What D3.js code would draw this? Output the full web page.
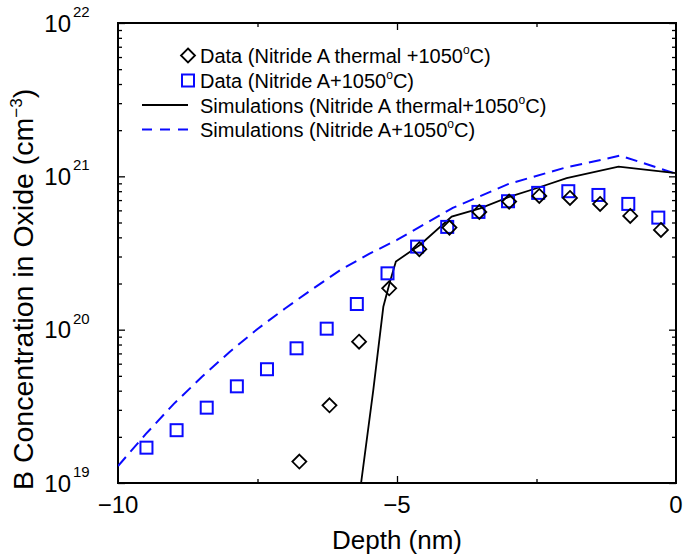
<!DOCTYPE html>
<html>
<head>
<meta charset="utf-8">
<script src="https://cdn.jsdelivr.net/npm/d3@7"></script>
<style>
  body { margin: 0; background: #fff; }
  text { font-family: "Liberation Sans", Arial, sans-serif; fill: #000; }
</style>
</head>
<body>
<div id="chart"></div>
<script>
// Data (depth in nm, concentration in cm^-3)
const thermalDepth = [-6.75, -6.21, -5.68, -5.14, -4.60, -4.06, -3.525, -2.99, -2.45, -1.90, -1.36, -0.82, -0.27];
const thermalConc = [1.38e19, 3.21e19, 8.35e19, 1.86e20, 3.35e20, 4.63e20, 5.86e20, 6.84e20, 7.45e20, 7.23e20, 6.61e20, 5.52e20, 4.47e20];

const nitrideDepth = [-9.49, -8.95, -8.41, -7.87, -7.33, -6.80, -6.26, -5.72, -5.17, -4.64, -4.10, -3.54, -3.01, -2.47, -1.93, -1.39, -0.855, -0.317];
const nitrideConc = [1.70e19, 2.21e19, 3.10e19, 4.27e19, 5.52e19, 7.56e19, 1.015e20, 1.47e20, 2.33e20, 3.48e20, 4.68e20, 5.86e20, 6.88e20, 7.80e20, 8.0e20, 7.56e20, 6.61e20, 5.38e20];

const simThermalDepth = [-5.66, -5.425, -5.245, -5.125, -5.02, -4.59, -4.02, -3.51, -2.975, -2.50, -1.96, -1.03, 0];
const simThermalConc = [9.0e18, 4.04e19, 1.41e20, 2.06e20, 2.78e20, 3.57e20, 5.46e20, 6.19e20, 7.38e20, 8.36e20, 9.72e20, 1.156e21, 1.048e21];

const simNitrideDepth = [-10, -9.5, -9, -8.5, -8, -7.5, -7, -6.5, -6, -5.5, -5, -4, -3, -2, -1, 0];
const simNitrideConc = [1.29e19, 2.09e19, 3.28e19, 4.91e19, 7.16e19, 1.011e20, 1.38e20, 1.857e20, 2.47e20, 3.12e20, 3.85e20, 6.22e20, 8.92e20, 1.135e21, 1.365e21, 1.04e21];

const xTickValues = [-10, -5, 0];
const xTickLabels = ["\u221210", "\u22125", "0"];
const yTickExps = [19, 20, 21, 22];

const legendLabels = [
  ["Data (Nitride A thermal +1050", "C)"],
  ["Data (Nitride A+1050", "C)"],
  ["Simulations (Nitride A thermal+1050", "C)"],
  ["Simulations (Nitride A+1050", "C)"]
];

const w = 683, h = 559;
const pLeft = 118, pRight = 676, pTop = 23, pBottom = 483;
const blue = "#0a0aff";

const x = d3.scaleLinear().domain([-10, 0]).range([pLeft, pRight]);
const y = d3.scaleLog().domain([1e19, 1e22]).range([pBottom, pTop]);

const svg = d3.select("#chart").append("svg")
  .attr("width", w)
  .attr("height", h);

svg.append("defs").append("clipPath").attr("id", "clip")
  .append("rect")
  .attr("x", pLeft).attr("y", pTop)
  .attr("width", pRight - pLeft).attr("height", pBottom - pTop);

// minor / major log ticks
const majorY = yTickExps.map(e => Math.pow(10, e));
const minorY = [];
for (let e = 19; e < 22; e++) {
  for (let m = 2; m <= 9; m++) minorY.push(m * Math.pow(10, e));
}

function tickAxis(axis, vals, size) {
  return axis.tickValues(vals).tickSize(size).tickFormat("");
}

const axesG = svg.append("g").attr("class", "axes");

axesG.append("g").attr("transform", `translate(${pLeft},0)`)
  .call(tickAxis(d3.axisLeft(y), majorY, -7));
axesG.append("g").attr("transform", `translate(${pLeft},0)`)
  .call(tickAxis(d3.axisLeft(y), minorY, -4));
axesG.append("g").attr("transform", `translate(${pRight},0)`)
  .call(tickAxis(d3.axisRight(y), majorY, -7));
axesG.append("g").attr("transform", `translate(${pRight},0)`)
  .call(tickAxis(d3.axisRight(y), minorY, -4));
axesG.append("g").attr("transform", `translate(0,${pBottom})`)
  .call(tickAxis(d3.axisBottom(x), [-5], -7));
axesG.append("g").attr("transform", `translate(0,${pBottom})`)
  .call(tickAxis(d3.axisBottom(x), [-7.5, -2.5], -4));
axesG.append("g").attr("transform", `translate(0,${pTop})`)
  .call(tickAxis(d3.axisTop(x), [-5], -7));
axesG.append("g").attr("transform", `translate(0,${pTop})`)
  .call(tickAxis(d3.axisTop(x), [-7.5, -2.5], -4));

axesG.selectAll(".domain").remove();
axesG.selectAll(".tick line").attr("stroke", "#000").attr("stroke-width", 1.3);

// frame
svg.append("rect")
  .attr("x", pLeft).attr("y", pTop)
  .attr("width", pRight - pLeft).attr("height", pBottom - pTop)
  .attr("fill", "none")
  .attr("stroke", "#000")
  .attr("stroke-width", 2);

// tick labels
svg.selectAll(".xlab")
  .data(xTickValues)
  .enter()
  .append("text")
  .attr("class", "xlab")
  .attr("x", d => x(d))
  .attr("y", 513)
  .attr("text-anchor", "middle")
  .style("font-size", "24px")
  .text((d, i) => xTickLabels[i]);

svg.selectAll(".ylab")
  .data(yTickExps)
  .enter()
  .append("text")
  .attr("class", "ylab")
  .attr("x", 71)
  .attr("y", d => y(Math.pow(10, d)) + 8.5)
  .attr("text-anchor", "end")
  .style("font-size", "24px")
  .text("10");
svg.selectAll(".ysup")
  .data(yTickExps)
  .enter()
  .append("text")
  .attr("class", "ysup")
  .attr("x", 73)
  .attr("y", d => y(Math.pow(10, d)) - 6)
  .style("font-size", "15px")
  .text(d => d);

// axis titles
svg.append("text")
  .attr("x", 397)
  .attr("y", 549)
  .attr("text-anchor", "middle")
  .style("font-size", "26px")
  .text("Depth (nm)");

const yt = svg.append("text")
  .attr("transform", "translate(33,490) rotate(-90)")
  .attr("text-anchor", "start")
  .style("font-size", "28.5px");
yt.append("tspan").text("B Concentration in Oxide (cm");
yt.append("tspan").attr("dy", -11).style("font-size", "17px").text("\u22123");
yt.append("tspan").attr("dy", 11).text(")");

// simulation lines
const plot = svg.append("g").attr("clip-path", "url(#clip)");
const line = d3.line().x(d => x(d[0])).y(d => y(d[1]));

plot.append("path")
  .datum(d3.zip(simNitrideDepth, simNitrideConc))
  .attr("d", line)
  .attr("fill", "none")
  .attr("stroke", blue)
  .attr("stroke-width", 2)
  .attr("stroke-dasharray", "12,7");

plot.append("path")
  .datum(d3.zip(simThermalDepth, simThermalConc))
  .attr("d", line)
  .attr("fill", "none")
  .attr("stroke", "#000")
  .attr("stroke-width", 1.8);

// data markers
const sq = 12;
plot.selectAll(".sq")
  .data(d3.zip(nitrideDepth, nitrideConc))
  .enter()
  .append("rect")
  .attr("class", "sq")
  .attr("x", d => x(d[0]) - sq / 2)
  .attr("y", d => y(d[1]) - sq / 2)
  .attr("width", sq)
  .attr("height", sq)
  .attr("fill", "none")
  .attr("stroke", blue)
  .attr("stroke-width", 2);

const dm = 7;
const diamond = `M0,${-dm}L${dm},0L0,${dm}L${-dm},0Z`;
plot.selectAll(".dm")
  .data(d3.zip(thermalDepth, thermalConc))
  .enter()
  .append("path")
  .attr("class", "dm")
  .attr("transform", d => `translate(${x(d[0])},${y(d[1])})`)
  .attr("d", diamond)
  .attr("fill", "none")
  .attr("stroke", "#000")
  .attr("stroke-width", 1.8);

// legend
const legend = svg.append("g").attr("id", "legend");
const rowY = [55.5, 80.5, 105, 129.5];

legend.append("path")
  .attr("transform", `translate(188,${rowY[0]})`)
  .attr("d", diamond)
  .attr("fill", "none")
  .attr("stroke", "#000")
  .attr("stroke-width", 1.8);
legend.append("rect")
  .attr("x", 188 - sq / 2).attr("y", rowY[1] - sq / 2)
  .attr("width", sq).attr("height", sq)
  .attr("fill", "none")
  .attr("stroke", blue)
  .attr("stroke-width", 2);
legend.append("line")
  .attr("x1", 142).attr("x2", 188)
  .attr("y1", rowY[2]).attr("y2", rowY[2])
  .attr("stroke", "#000")
  .attr("stroke-width", 1.8);
legend.append("line")
  .attr("x1", 142).attr("x2", 188)
  .attr("y1", rowY[3]).attr("y2", rowY[3])
  .attr("stroke", blue)
  .attr("stroke-width", 2)
  .attr("stroke-dasharray", "10,8");

legendLabels.forEach((lab, i) => {
  const t = legend.append("text")
    .attr("x", 200)
    .attr("y", rowY[i] + 7.5)
    .style("font-size", "20px");
  t.append("tspan").text(lab[0]);
  t.append("tspan").attr("dy", -9).style("font-size", "12px").text("o");
  t.append("tspan").attr("dy", 9).text(lab[1]);
});
</script>
</body>
</html>
